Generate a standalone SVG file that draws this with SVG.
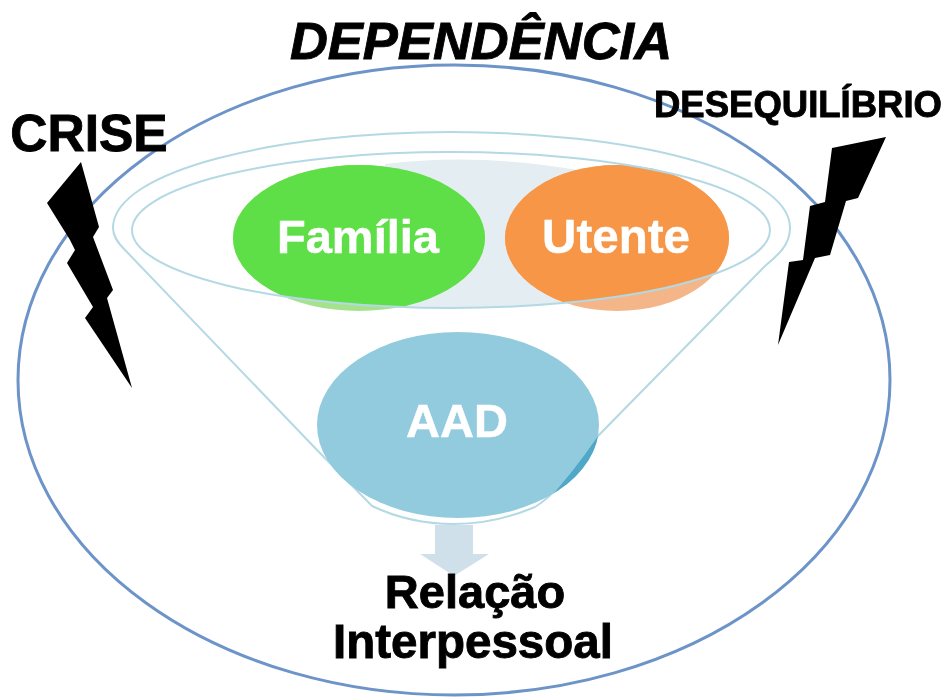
<svg xmlns="http://www.w3.org/2000/svg" width="950" height="700" viewBox="0 0 950 700">
<style>
.l{font-family:"Liberation Sans",Arial,sans-serif;font-weight:700;text-anchor:middle}
.w{fill:#fff;stroke:#fff;stroke-width:.5px}
.k{fill:#000;stroke:#000;stroke-width:.9px}
.f{fill:none;stroke:#b4d9e4;stroke-width:2}
.b{fill:#000;filter:url(#s)}
</style>
<defs>
<filter id="s" x="-5%" y="-5%" width="110%" height="110%"><feGaussianBlur stdDeviation="0.7"/></filter>
<clipPath id="inner"><ellipse cx="451" cy="230" rx="319" ry="78"/></clipPath>
<clipPath id="upper"><ellipse cx="451" cy="230" rx="319" ry="78"/><rect x="0" y="0" width="950" height="230"/></clipPath>
<clipPath id="aadclip"><ellipse cx="458" cy="425" rx="141" ry="93"/></clipPath>
</defs>
<rect width="950" height="700" fill="#fff"/>
<g id="boundary"><ellipse cx="454" cy="380" rx="436" ry="315" fill="none" stroke="#6d94c8" stroke-width="3" filter="url(#s)"/></g>
<g id="funnel" filter="url(#s)">
<path d="M385 164Q480 152 590 172L590 320H385Z" fill="#e4edf2" clip-path="url(#inner)"/>
<path class="f" d="M113 228C113 170 280 132 451 132C625 132 790 170 790 228C790 245 778 255 765 266L597 437C575 470 555 495 535 507Q495 524 454 524Q410 524 372 506L317 450L125 250C117 242 113 236 113 228Z"/>
</g>
<g id="familia" filter="url(#s)">
<ellipse cx="359" cy="238" rx="126" ry="73" fill="#a6e28e"/>
<ellipse cx="359" cy="238" rx="126" ry="73" fill="#5fdf47" clip-path="url(#upper)"/>
</g>
<g id="utente" filter="url(#s)">
<ellipse cx="617" cy="238" rx="112" ry="73" fill="#f4b588"/>
<ellipse cx="617" cy="238" rx="112" ry="73" fill="#f79646" clip-path="url(#upper)"/>
</g>
<g id="funnel-rim" filter="url(#s)"><ellipse class="f" cx="451" cy="230" rx="319" ry="78"/></g>
<g id="aad" filter="url(#s)">
<ellipse cx="458" cy="425" rx="141" ry="93" fill="#93cbde"/>
<path d="M598 436Q572 474 544 504L610 520Z" fill="#4fa8c8" clip-path="url(#aadclip)"/>
</g>
<g id="connectors"><path d="M435 525H473V554H489L454 576L420 554H435Z" fill="#cfe0ea" filter="url(#s)"/></g>
<g id="crise-bolt"><path class="b" d="M81 162L47 203L70 240L75 250L67 263L93 307L85 318L132 388L107 298L113 290L93 237L99 227Z"/></g>
<g id="desequilibrio-bolt"><path class="b" d="M886 137L832 148L825 202L810 206L803 260L789 262L778 345L815 258L830 255L846 201L858 198Z"/></g>
<g id="labels" filter="url(#s)">
<text class="l k" x="481" y="59" font-size="52.5" font-style="italic">DEPENDÊNCIA</text>
<text class="l k" x="89" y="151" font-size="51.5">CRISE</text>
<text class="l k" x="798" y="117" font-size="36.5">DESEQUILÍBRIO</text>
<text class="l w" x="358" y="253" font-size="47">Família</text>
<text class="l w" x="616" y="253" font-size="47.5">Utente</text>
<text class="l w" x="457" y="437" font-size="47">AAD</text>
<text class="l k" x="475" y="608" font-size="47">Relação</text>
<text class="l k" x="473" y="658" font-size="47.5">Interpessoal</text>
</g>
</svg>
